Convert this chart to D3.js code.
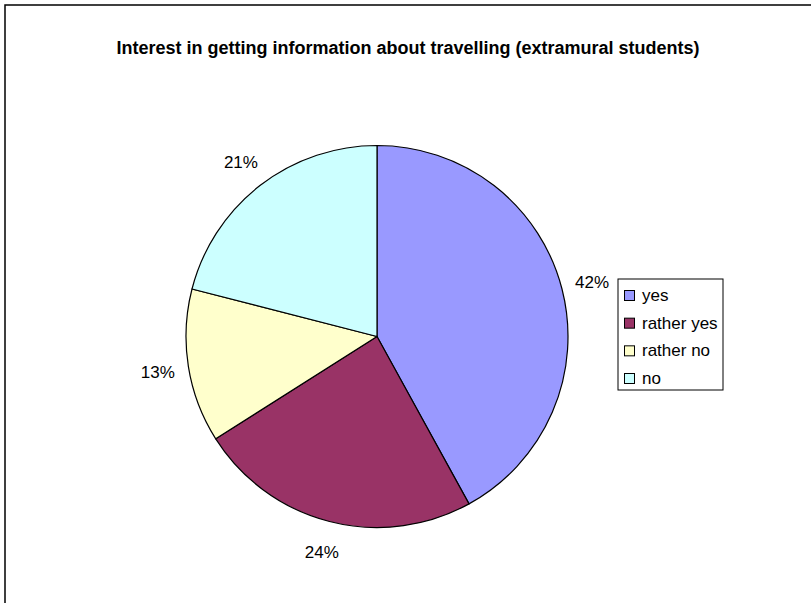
<!DOCTYPE html>
<html>
<head>
<meta charset="utf-8">
<script src="https://cdn.jsdelivr.net/npm/d3@7"></script>
<style>
  html, body { margin: 0; padding: 0; background: #fff; }
  svg { display: block; font-family: "Liberation Sans", Arial, sans-serif; }
</style>
</head>
<body>
<svg id="chart" width="811" height="603"></svg>
<script>
// Survey answers and their shares (percent)
const categories = ["yes", "rather yes", "rather no", "no"];
const shares = [42, 24, 13, 21];
const colors = ["#9999FF", "#993366", "#FFFFCC", "#CCFFFF"];
const title = "Interest in getting information about travelling (extramural students)";

const svg = d3.select("#chart");
const W = 811, H = 603;

// Chart frame (continues past the right and bottom edges)
svg.append("rect")
  .attr("x", 5).attr("y", 5)
  .attr("width", W + 20).attr("height", H + 20)
  .attr("fill", "#fff")
  .attr("stroke", "#000")
  .attr("stroke-width", 1.5);

svg.append("text")
  .attr("x", 408).attr("y", 54)
  .attr("text-anchor", "middle")
  .attr("font-weight", "bold")
  .attr("font-size", 18)
  .text(title);

const cx = 377, cy = 336.5, r = 191;
const data = categories.map((c, i) => ({ name: c, value: shares[i], color: colors[i] }));

const pie = d3.pie().value(d => d.value).sort(null);
const arc = d3.arc().innerRadius(0).outerRadius(r);
const labelArc = d3.arc().innerRadius(222).outerRadius(222);

const g = svg.append("g").attr("transform", `translate(${cx},${cy})`);
const arcs = pie(data);

g.selectAll("path.slice")
  .data(arcs)
  .join("path")
  .attr("class", "slice")
  .attr("d", arc)
  .attr("fill", d => d.data.color)
  .attr("stroke", "#000")
  .attr("stroke-width", 1.2)
  .attr("stroke-linejoin", "round");

g.selectAll("text.pct")
  .data(arcs)
  .join("text")
  .attr("class", "pct")
  .attr("transform", d => `translate(${labelArc.centroid(d)})`)
  .attr("text-anchor", "middle")
  .attr("dy", "0.4em")
  .attr("font-size", 17)
  .attr("fill", "#000")
  .text(d => d3.format(".0f")(d.data.value) + "%");

// Legend
const lg = svg.append("g").attr("transform", "translate(618,279)");
lg.append("rect")
  .attr("width", 105).attr("height", 111)
  .attr("fill", "#fff").attr("stroke", "#000").attr("stroke-width", 1);

const row = d3.scalePoint().domain(categories).range([16, 99]);
const item = lg.selectAll("g.item")
  .data(data)
  .join("g")
  .attr("class", "item")
  .attr("transform", d => `translate(0,${row(d.name)})`);
item.append("rect")
  .attr("x", 6.5).attr("y", -4.5)
  .attr("width", 10).attr("height", 10)
  .attr("fill", d => d.color)
  .attr("stroke", "#000").attr("stroke-width", 1);
item.append("text")
  .attr("x", 24).attr("y", 0)
  .attr("dy", "0.35em")
  .attr("font-size", 17)
  .text(d => d.name);
</script>
</body>
</html>
